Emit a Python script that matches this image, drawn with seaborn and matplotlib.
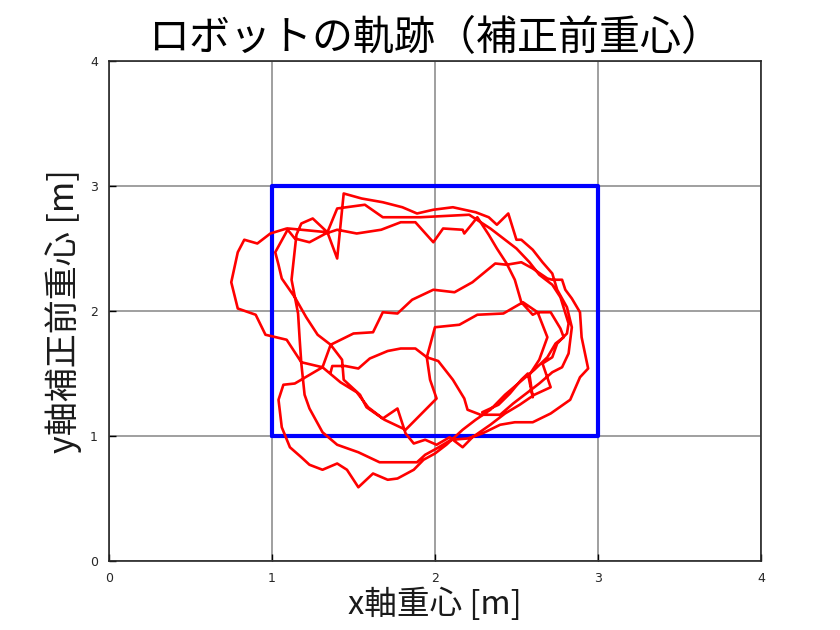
import numpy as np
import pandas as pd
import matplotlib
matplotlib.use("Agg")
import matplotlib.pyplot as plt
import seaborn as sns

# Trajectory of the robot (center of mass before correction), in metres
traj_x = [1.36, 1.37, 1.45, 1.53, 1.60, 1.71, 1.79, 1.88, 1.95, 2.02,
          2.11, 2.18, 2.20, 2.28, 2.40, 2.48, 2.56, 2.64, 2.72, 2.78,
          2.82, 2.84, 2.81, 2.75, 2.72, 2.66, 2.60, 2.53, 2.50, 2.45,
          2.38, 2.33, 2.25, 2.11, 1.99, 1.89, 1.80, 1.68, 1.55, 1.44,
          1.40, 1.34, 1.25, 1.18, 1.15, 1.12, 1.16, 1.17, 1.18, 1.20,
          1.23, 1.31, 1.40, 1.53, 1.66, 1.89, 1.94, 2.01, 2.10, 2.20,
          2.29, 2.40, 2.49, 2.60, 2.71, 2.83, 2.89, 2.94, 2.90, 2.89,
          2.84, 2.80, 2.78, 2.72, 2.69, 2.60, 2.53, 2.44, 2.37, 2.23,
          2.12, 1.99, 1.86, 1.77, 1.68, 1.62, 1.50, 1.36, 1.31, 1.14,
          1.07, 1.04, 1.06, 1.11, 1.18, 1.23, 1.31, 1.40, 1.46, 1.53,
          1.62, 1.71, 1.77, 1.87, 1.93, 2.00, 2.07, 2.17, 2.25, 2.34,
          2.43, 2.52, 2.61, 2.69, 2.74, 2.79, 2.77, 2.71, 2.63, 2.60,
          2.53, 2.49, 2.44, 2.38, 2.33, 2.26, 2.23, 2.18, 2.17, 2.05,
          1.99, 1.88, 1.79, 1.67, 1.52, 1.40, 1.33, 1.23, 1.14, 1.09,
          0.99, 0.91, 0.83, 0.79, 0.75, 0.79, 0.90, 0.96, 1.09, 1.18,
          1.31, 1.42, 1.52, 1.59, 1.68, 1.77, 1.82, 1.87, 1.94, 2.01,
          2.09, 2.17, 2.23, 2.34, 2.43, 2.52, 2.61, 2.71, 2.66, 2.72,
          2.75, 2.81, 2.82, 2.77, 2.72, 2.64, 2.58, 2.50, 2.43, 2.34,
          2.21, 2.06, 1.91, 1.77, 1.68, 1.57, 1.40, 1.34, 1.10, 1.02,
          1.04, 1.06, 1.14, 1.21, 1.28, 1.36, 1.43, 1.44, 1.54, 1.58,
          1.69, 1.82, 2.01, 1.97, 1.95, 2.00, 2.15, 2.26, 2.42, 2.54,
          2.63, 2.69, 2.64, 2.58, 2.60, 2.57, 2.53, 2.46, 2.39, 2.29]
traj_y = [1.51, 1.56, 1.56, 1.54, 1.62, 1.68, 1.70, 1.70, 1.63, 1.60,
          1.45, 1.30, 1.21, 1.17, 1.17, 1.26, 1.34, 1.42, 1.51, 1.55,
          1.66, 1.87, 2.03, 2.17, 2.30, 2.39, 2.49, 2.57, 2.57, 2.78,
          2.69, 2.75, 2.79, 2.83, 2.81, 2.78, 2.83, 2.87, 2.90, 2.94,
          2.42, 2.63, 2.74, 2.70, 2.61, 2.25, 1.98, 1.77, 1.58, 1.33,
          1.22, 1.03, 0.93, 0.87, 0.79, 0.79, 0.85, 0.90, 0.97, 0.98,
          1.02, 1.09, 1.11, 1.11, 1.18, 1.29, 1.47, 1.54, 1.79, 1.99,
          2.10, 2.17, 2.25, 2.25, 2.26, 2.34, 2.39, 2.37, 2.38, 2.23,
          2.15, 2.17, 2.09, 1.98, 1.99, 1.83, 1.82, 1.73, 1.55, 1.42,
          1.41, 1.29, 1.07, 0.91, 0.83, 0.77, 0.73, 0.78, 0.73, 0.59,
          0.70, 0.65, 0.66, 0.73, 0.81, 0.86, 0.93, 1.05, 1.13, 1.21,
          1.33, 1.43, 1.53, 1.63, 1.74, 1.79, 1.86, 1.99, 1.99, 1.97,
          2.07, 2.25, 2.38, 2.50, 2.61, 2.75, 2.70, 2.62, 2.65, 2.66,
          2.55, 2.71, 2.71, 2.65, 2.62, 2.65, 2.62, 2.55, 2.58, 2.66,
          2.62, 2.54, 2.57, 2.47, 2.23, 2.02, 1.97, 1.81, 1.77, 1.59,
          1.55, 1.43, 1.35, 1.23, 1.14, 1.22, 1.02, 0.94, 0.97, 0.93,
          0.99, 0.91, 0.99, 1.09, 1.18, 1.25, 1.33, 1.39, 1.58, 1.63,
          1.74, 1.82, 1.90, 2.11, 2.21, 2.29, 2.39, 2.50, 2.57, 2.66,
          2.77, 2.76, 2.75, 2.75, 2.75, 2.85, 2.82, 2.63, 2.66, 2.47,
          2.37, 2.26, 2.11, 1.95, 1.81, 1.73, 1.61, 1.45, 1.33, 1.23,
          1.13, 1.05, 1.30, 1.45, 1.63, 1.87, 1.89, 1.97, 1.98, 2.07,
          1.99, 1.79, 1.61, 1.49, 1.31, 1.50, 1.45, 1.34, 1.25, 1.19]

# Target area (blue square)
rect_x = [1, 3, 3, 1, 1]
rect_y = [1, 1, 3, 3, 1]

ticks = [0, 1, 2, 3, 4]

title_text = "ロボットの軌跡（補正前重心）"
xlabel_text = "x軸重心 [m]"
ylabel_text = "y軸補正前重心 [m]"

sns.set_theme(style="white")
plt.rcParams["font.family"] = ["Noto Sans CJK JP", "DejaVu Sans"]

fig = plt.figure(figsize=(8.4, 6.3), dpi=100)
ax = fig.add_axes([0.1298, 0.1095, 0.776, 0.7937])

traj = pd.DataFrame({"x": traj_x, "y": traj_y, "order": np.arange(len(traj_x))})
rect = pd.DataFrame({"x": rect_x, "y": rect_y, "order": np.arange(len(rect_x))})

sns.lineplot(data=rect, x="x", y="y", sort=False, estimator=None,
             color="#0000ff", linewidth=3.0, ax=ax, zorder=3)
sns.lineplot(data=traj, x="x", y="y", sort=False, estimator=None,
             color="#ff0000", linewidth=1.9, ax=ax, zorder=4)

ax.set_xlim(0, 4)
ax.set_ylim(0, 4)
ax.set_xticks(ticks)
ax.set_yticks(ticks)
ax.set_xticklabels([str(t) for t in ticks], fontsize=9, family="DejaVu Sans")
ax.set_yticklabels([str(t) for t in ticks], fontsize=9, family="DejaVu Sans")
ax.grid(True, color="#8f8f8f", linewidth=1.2)
ax.set_axisbelow(True)
ax.tick_params(direction="in", length=5, width=1, color="black",
               bottom=True, left=True, top=False, right=False, pad=8)
for s in ax.spines.values():
    s.set_color("#262626")
    s.set_linewidth(1.2)

ax.set_title(title_text, fontsize=29.5, pad=8, color="black")
ax.set_xlabel(xlabel_text, fontsize=23.5, labelpad=2, color="#1a1a1a")
ax.set_ylabel(ylabel_text, fontsize=24.5, labelpad=6, color="#1a1a1a")

fig.savefig("out.png", dpi=100, facecolor="white")
